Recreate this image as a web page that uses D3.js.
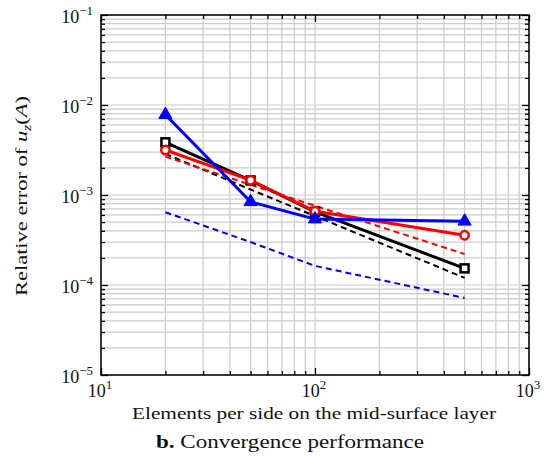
<!DOCTYPE html>
<html><head><meta charset="utf-8">
<script src="https://cdn.jsdelivr.net/npm/d3@7"></script>
<style>body{margin:0;background:#fff}svg{display:block}text{font-family:"Liberation Serif","DejaVu Serif",serif;fill:#111}</style>
</head><body>
<script>
const elements = [20, 50, 100, 500];
const blueSolid = [7.8e-3, 8.4e-4, 5.4e-4, 5.1e-4];
const redSolid = [3.16e-3, 1.46e-3, 6.6e-4, 3.57e-4];
const blackSolid = [3.85e-3, 1.45e-3, 6.5e-4, 1.53e-4];
const redDashed = [2.67e-3, 1.30e-3, 7.6e-4, 2.21e-4];
const blackDashed = [2.86e-3, 1.15e-3, 5.84e-4, 1.2e-4];
const blueDashed = [6.43e-4, 3.0e-4, 1.63e-4, 7.18e-5];
const xTickExp = [1, 2, 3];
const yTickExp = [-5, -4, -3, -2, -1];

const W = 547, H = 456;
const m = {l: 101, r: 529, t: 15, b: 375};
const svg = d3.select("body").append("svg").attr("width", W).attr("height", H);
const x = d3.scaleLog().domain([10, 1000]).range([m.l, m.r]);
const y = d3.scaleLog().domain([1e-5, 1e-1]).range([m.b, m.t]);

const xs = [], ys = [];
for (let e = 1; e < 3; e++) for (let k = 1; k <= 9; k++) xs.push(k * Math.pow(10, e));
xs.push(1000);
for (let e = -5; e < -1; e++) for (let k = 1; k <= 9; k++) ys.push(k * Math.pow(10, e));
ys.push(0.1);

const grid = svg.append("g").attr("stroke", "#cbcbcb").attr("stroke-width", 1.2);
xs.forEach(v => grid.append("line").attr("x1", x(v)).attr("x2", x(v)).attr("y1", m.t).attr("y2", m.b));
ys.forEach(v => grid.append("line").attr("y1", y(v)).attr("y2", y(v)).attr("x1", m.l).attr("x2", m.r));

const isMajor = v => Math.abs(Math.log10(v) - Math.round(Math.log10(v))) < 1e-9;
function addTicks(axisGen, transform, vals, inward) {
  const g = svg.append("g").attr("transform", transform);
  g.call(axisGen.tickValues(vals).tickFormat("").tickSizeOuter(0));
  g.select(".domain").remove();
  g.selectAll(".tick line").attr("stroke", "#000").attr("stroke-width", 1.3)
    .each(function(d){ const L = isMajor(d) ? 7 : 4; const s = d3.select(this);
      if (inward === "x") s.attr("y2", -L); else if (inward === "xt") s.attr("y2", L);
      else if (inward === "y") s.attr("x2", L); else s.attr("x2", -L); });
}
addTicks(d3.axisBottom(x), `translate(0,${m.b})`, xs, "x");
addTicks(d3.axisTop(x), `translate(0,${m.t})`, xs, "xt");
addTicks(d3.axisLeft(y), `translate(${m.l},0)`, ys, "y");
addTicks(d3.axisRight(y), `translate(${m.r},0)`, ys, "yr");

svg.append("rect").attr("x", m.l).attr("y", m.t).attr("width", m.r - m.l).attr("height", m.b - m.t)
  .attr("fill", "none").attr("stroke", "#000").attr("stroke-width", 1.5);

xTickExp.forEach(e => {
  const t = svg.append("text").attr("x", x(Math.pow(10, e)) - 1).attr("y", 397).attr("text-anchor", "middle").style("font-size", "18px");
  t.append("tspan").text("10");
  t.append("tspan").attr("dy", -8).style("font-size", "13px").text(String(e));
});
yTickExp.forEach(e => {
  const t = svg.append("text").attr("x", 93).attr("y", y(Math.pow(10, e)) + 8).attr("text-anchor", "end").style("font-size", "18px");
  t.append("tspan").text("10");
  t.append("tspan").attr("dy", -8).style("font-size", "13px").text("\u2212" + Math.abs(e));
});

svg.append("text").attr("x", 314).attr("y", 419).attr("text-anchor", "middle").style("font-size", "17px")
  .attr("textLength", 364).attr("lengthAdjust", "spacingAndGlyphs")
  .text("Elements per side on the mid-surface layer");
const yl = svg.append("text").attr("transform", "translate(27,196) rotate(-90)").attr("text-anchor", "middle").style("font-size", "17px")
  .attr("textLength", 200).attr("lengthAdjust", "spacingAndGlyphs");
yl.append("tspan").text("Relative error of ");
yl.append("tspan").style("font-style", "italic").text("u");
yl.append("tspan").style("font-style", "italic").style("font-size", "12px").attr("dy", 4).text("z");
yl.append("tspan").attr("dy", -4).text("(");
yl.append("tspan").style("font-style", "italic").text("A");
yl.append("tspan").text(")");

const tt = svg.append("text").attr("x", 290).attr("y", 448).attr("text-anchor", "middle").style("font-size", "18px")
  .attr("textLength", 268).attr("lengthAdjust", "spacingAndGlyphs");
tt.append("tspan").style("font-weight", "bold").text("b.");
tt.append("tspan").text(" Convergence performance");

const line = d3.line().x(d => x(d[0])).y(d => y(d[1]));
const zip = vals => elements.map((e, i) => [e, vals[i]]);
const plot = svg.append("g");
function drawLine(vals, color, w, dash) {
  plot.append("path").datum(zip(vals)).attr("d", line).attr("fill", "none").attr("stroke", color)
    .attr("stroke-width", w).attr("stroke-dasharray", dash || null).attr("stroke-linejoin", "round");
}
drawLine(blackDashed, "#000", 2, "6,4");
drawLine(redDashed, "#f00", 2, "6,4");
drawLine(blueDashed, "#00f", 2, "6,4");

drawLine(blackSolid, "#000", 3);
plot.selectAll(null).data(zip(blackSolid)).enter().append("rect")
  .attr("x", d => x(d[0]) - 4).attr("y", d => y(d[1]) - 4).attr("width", 8).attr("height", 8)
  .attr("fill", "#fff").attr("stroke", "#000").attr("stroke-width", 2.5);

drawLine(redSolid, "#f00", 3);
plot.selectAll(null).data(zip(redSolid)).enter().append("circle")
  .attr("cx", d => x(d[0])).attr("cy", d => y(d[1])).attr("r", 4.2)
  .attr("fill", "#fff").attr("stroke", "#f00").attr("stroke-width", 2.5);

drawLine(blueSolid, "#00f", 3);
const tri = d3.symbol().type(d3.symbolTriangle).size(75);
plot.selectAll(null).data(zip(blueSolid)).enter().append("path")
  .attr("d", tri).attr("transform", d => `translate(${x(d[0])},${y(d[1])})`).attr("fill", "#00f").attr("stroke", "#00f").attr("stroke-width", 1);
</script>
</body></html>
